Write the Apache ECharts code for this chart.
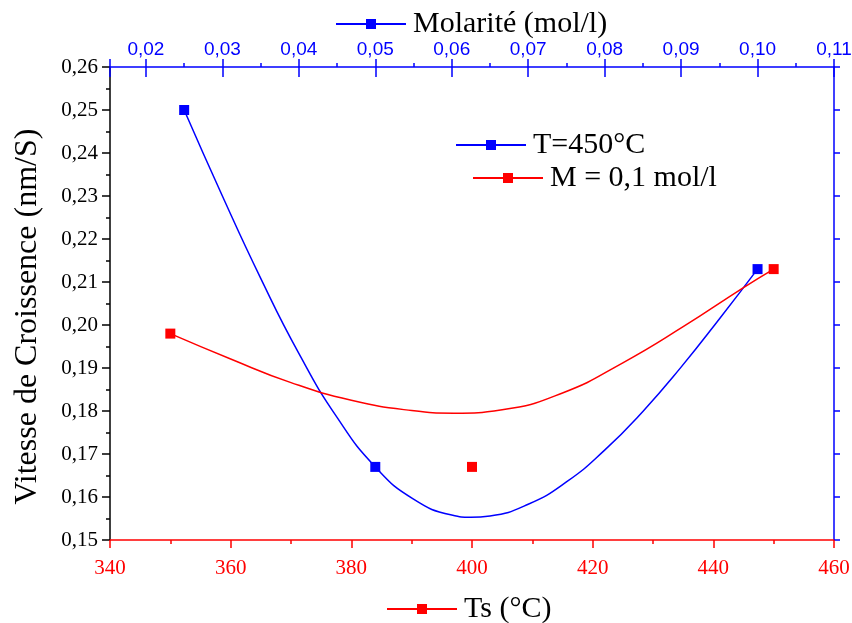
<!DOCTYPE html>
<html>
<head>
<meta charset="utf-8">
<script src="https://cdn.jsdelivr.net/npm/echarts@6/dist/echarts.min.js"></script>
<style>
  html, body { margin: 0; padding: 0; background: #fff; }
  #chart { width: 852px; height: 623px; }
</style>
</head>
<body>
<div id="chart"></div>
<script>
// measured points
var molarity = [0.025, 0.05, 0.10];
var rateMolarity = [0.25, 0.167, 0.213];
var temperature = [350, 400, 450];
var rateTemperature = [0.198, 0.167, 0.213];

// fitted curves
var blueCurveM = [0.025, 0.03, 0.035, 0.04, 0.045, 0.05, 0.055, 0.06, 0.0625, 0.065, 0.07, 0.075, 0.08, 0.085, 0.09, 0.095, 0.10];
var blueCurveV = [0.2500, 0.2300, 0.2109, 0.1934, 0.1785, 0.1670, 0.1595, 0.1558, 0.1553, 0.1556, 0.1583, 0.1635, 0.1709, 0.1799, 0.1902, 0.2014, 0.2130];
var redCurveT = [350, 360, 370, 380, 390, 397, 405, 415, 425, 435, 445, 450];
var redCurveV = [0.1980, 0.1921, 0.1866, 0.1825, 0.1801, 0.1795, 0.1803, 0.1842, 0.1912, 0.1996, 0.2087, 0.2130];

var BLUE = "#0000ff";
var RED = "#ff0000";
var SERIF = "Liberation Serif";
var SANS = "Liberation Sans";

// legend icon: a line with a square in the middle
var lineIcon = "path://M0,4.5L70,4.5L70,6.5L0,6.5Z M30,0.5L40,0.5L40,10.5L30,10.5Z";

function zip(xs, ys) {
  var out = [];
  for (var i = 0; i < xs.length; i++) {
    out.push([xs[i], ys[i]]);
  }
  return out;
}

function comma(v, d) {
  return v.toFixed(d).replace(".", ",");
}

function legendAt(name, text, left, top) {
  return {
    data: [name],
    left: left,
    top: top,
    padding: 0,
    icon: lineIcon,
    itemWidth: 70,
    itemHeight: 11,
    itemGap: 0,
    selectedMode: false,
    formatter: function() { return text; },
    textStyle: { fontFamily: SERIF, fontSize: 30, color: "#000", padding: [0, 0, 0, 2] }
  };
}

var chart = echarts.init(document.getElementById("chart"), null, { renderer: "canvas" });

var option = {
  animation: false,
  backgroundColor: "#fff",
  grid: { left: 110, right: 18, top: 67, bottom: 83, containLabel: false, outerBoundsMode: "none" },
  legend: [
    legendAt("T=450°C", "Molarité (mol/l)", 336, 9),
    legendAt("M = 0,1 mol/l", "Ts (°C)", 387, 594),
    legendAt("T=450°C", "T=450°C", 456, 130),
    legendAt("M = 0,1 mol/l", "M = 0,1 mol/l", 473, 163)
  ],
  xAxis: [
    {
      // bottom temperature axis
      type: "value",
      position: "bottom",
      min: 340,
      max: 460,
      interval: 20,
      axisLine: { lineStyle: { color: RED, width: 1.5 } },
      axisTick: { length: 8, lineStyle: { color: RED, width: 1.5 } },
      minorTick: { show: true, splitNumber: 2, length: 4, lineStyle: { color: RED, width: 1.5 } },
      axisLabel: { color: RED, fontFamily: SERIF, fontSize: 21, margin: 18 },
      splitLine: { show: false }
    },
    {
      // top molarity axis
      type: "value",
      position: "top",
      min: 0.0153,
      max: 0.11,
      splitNumber: 10,
      axisLine: { lineStyle: { color: BLUE, width: 1.5 } },
      axisTick: { length: 8, lineStyle: { color: BLUE, width: 1.5 } },
      minorTick: { show: true, splitNumber: 2, length: 4, lineStyle: { color: BLUE, width: 1.5 } },
      axisLabel: {
        color: BLUE, fontFamily: SANS, fontSize: 19, margin: 8,
        formatter: function(v) {
          var r = Math.round(v * 100);
          if (Math.abs(v * 100 - r) > 0.01) {
            return "";
          }
          return comma(v, 2);
        }
      },
      splitLine: { show: false }
    },
    {
      // inner half of the top major ticks
      type: "value",
      position: "top",
      min: 0.0153,
      max: 0.11,
      splitNumber: 10,
      axisLine: { show: false },
      axisTick: { inside: true, length: 10, lineStyle: { color: BLUE, width: 1.5 } },
      axisLabel: { show: false },
      splitLine: { show: false }
    }
  ],
  yAxis: [
    {
      type: "value",
      position: "left",
      min: 0.15,
      max: 0.26,
      interval: 0.01,
      name: "Vitesse de Croissence (nm/S)",
      nameLocation: "middle",
      nameRotate: 90,
      nameGap: 66,
      nameTextStyle: { fontFamily: SERIF, fontSize: 32, color: "#000", padding: [0, 26, 0, 0] },
      axisLine: { lineStyle: { color: "#000", width: 1.5 } },
      axisTick: { length: 8, lineStyle: { color: "#000", width: 1.5 } },
      minorTick: { show: true, splitNumber: 2, length: 4, lineStyle: { color: "#000", width: 1.5 } },
      axisLabel: {
        color: "#000", fontFamily: SERIF, fontSize: 21, margin: 12,
        formatter: function(v) { return comma(v, 2); }
      },
      splitLine: { show: false }
    },
    {
      type: "value",
      position: "right",
      min: 0.15,
      max: 0.26,
      interval: 0.01,
      axisLine: { lineStyle: { color: BLUE, width: 1.5 } },
      axisTick: { length: 6, lineStyle: { color: BLUE, width: 1.5 } },
      axisLabel: { show: false },
      splitLine: { show: false }
    }
  ],
  series: [
    {
      name: "T=450°C",
      type: "line",
      xAxisIndex: 1,
      yAxisIndex: 0,
      data: zip(blueCurveM, blueCurveV),
      smooth: true,
      showSymbol: false,
      color: BLUE,
      lineStyle: { color: BLUE, width: 1.5 },
      z: 2
    },
    {
      name: "M = 0,1 mol/l",
      type: "line",
      xAxisIndex: 0,
      yAxisIndex: 0,
      data: zip(redCurveT, redCurveV),
      smooth: true,
      showSymbol: false,
      color: RED,
      lineStyle: { color: RED, width: 1.5 },
      z: 2
    },
    {
      name: "blue points",
      type: "scatter",
      xAxisIndex: 1,
      yAxisIndex: 0,
      data: zip(molarity, rateMolarity),
      symbol: "rect",
      symbolSize: 10,
      itemStyle: { color: BLUE, opacity: 1 },
      z: 3
    },
    {
      name: "red points",
      type: "scatter",
      xAxisIndex: 0,
      yAxisIndex: 0,
      data: zip(temperature, rateTemperature),
      symbol: "rect",
      symbolSize: 10,
      itemStyle: { color: RED, opacity: 1 },
      z: 3
    }
  ]
};

chart.setOption(option);
</script>
</body>
</html>
